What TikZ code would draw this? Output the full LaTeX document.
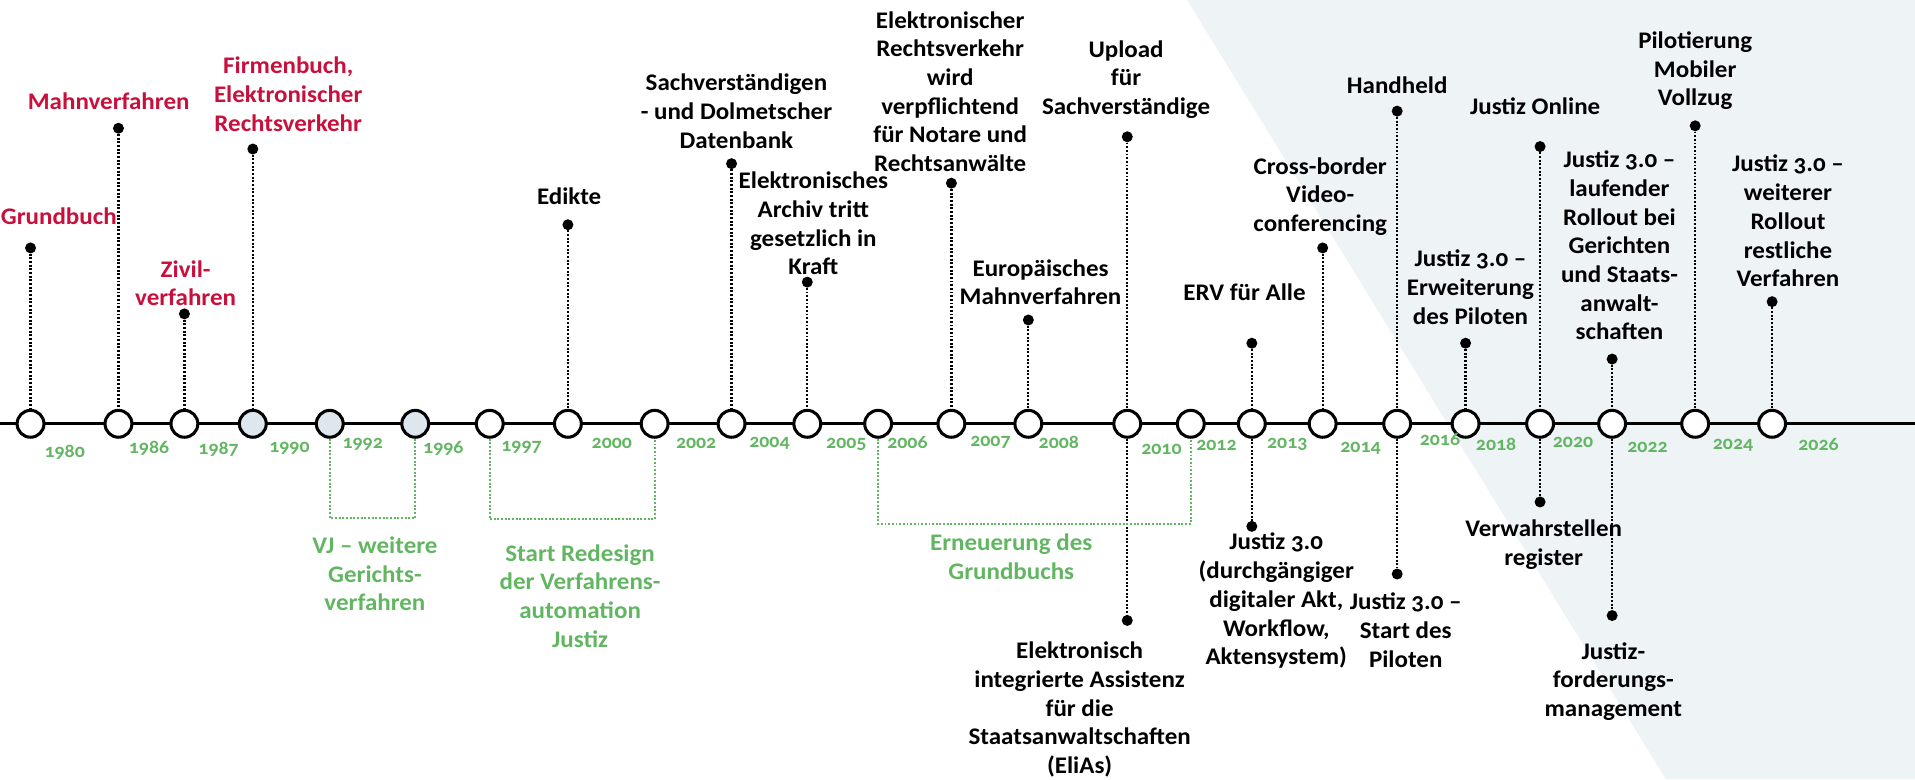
\documentclass[tikz,border=0pt]{standalone}
\usepackage{fontspec}
\setmainfont{Carlito}[Numbers=OldStyle,FakeStretch=1.05]
\definecolor{eventred}{RGB}{200,16,60}
\definecolor{phasegreen}{RGB}{98,182,98}
\definecolor{ringfill}{RGB}{222,231,238}
\definecolor{bggray}{RGB}{238,243,246}
\tikzset{
  ring/.style={circle,draw,line width=2.5pt,minimum size=22pt,inner sep=0pt,fill=white},
  ringold/.style={ring,fill=ringfill},
  dotmark/.style={circle,fill,minimum size=9pt,inner sep=0pt},
  lbl/.style={align=center,inner sep=0pt,font=\bfseries\fontsize{19.5}{23.5}\selectfont},
  lblred/.style={lbl,text=eventred},
  lblgreen/.style={lbl,text=phasegreen},
  yr/.style={inner sep=0pt,text=phasegreen,font=\bfseries\fontsize{15.5}{15.5}\selectfont},
  stemline/.style={line width=1.8pt,dash pattern=on 1.6pt off 1.4pt},
  bracket/.style={stemline,phasegreen}
}
\begin{document}
\begin{tikzpicture}[x=1pt,y=-1pt]
        \useasboundingbox (0,0) rectangle (1568,638);
        \fill[bggray] (972,0) -- (1568,0) -- (1568,638) -- (1364,638) -- cycle;
        \coordinate (lstart) at (0,347);
        \coordinate (lend) at (1568,347);
        \draw[line width=2.5pt] (lstart) -- (lend);
        % timeline rings
        \node at (25,347) [ring] (0) {};
        \node at (97,347) [ring] (1) {};
        \node at (151,347) [ring] (2) {};
        \node at (207,347) [ringold] (3) {};
        \node at (270,347) [ringold] (4) {};
        \node at (340,347) [ringold] (5) {};
        \node at (401,347) [ring] (6) {};
        \node at (465,347) [ring] (7) {};
        \node at (536,347) [ring] (8) {};
        \node at (599,347) [ring] (9) {};
        \node at (661,347) [ring] (10) {};
        \node at (719,347) [ring] (11) {};
        \node at (779,347) [ring] (12) {};
        \node at (842,347) [ring] (13) {};
        \node at (923,347) [ring] (14) {};
        \node at (975,347) [ring] (15) {};
        \node at (1025,347) [ring] (16) {};
        \node at (1083,347) [ring] (17) {};
        \node at (1144,347) [ring] (18) {};
        \node at (1200,347) [ring] (19) {};
        \node at (1261,347) [ring] (20) {};
        \node at (1320,347) [ring] (21) {};
        \node at (1388,347) [ring] (22) {};
        \node at (1451,347) [ring] (23) {};
        % years
        \foreach \x/\y/\t in {53/370/1980,122/367/1986,179/368/1987,237/367/1990,297/364/1992,
            363/367/1996,427/366/1997,501/363/2000,570/363/2002,630/363/2004,693/364/2005,
            743/362/2006,811/362/2007,867/362/2008,951/368/2010,996/365/2012,1054/364/2013,
            1114/367/2014,1179/360/2016,1225/364/2018,1288/362/2020,1349/366/2022,
            1419/365/2024,1489/364/2026}
          \node[yr] at (\x,\y) (y\t) {\t};
        % end points of the stems
        \node at (25,203) [dotmark] (d0) {};
        \node at (97,105) [dotmark] (d1) {};
        \node at (151,257) [dotmark] (d2) {};
        \node at (207,122) [dotmark] (d3) {};
        \node at (465,184) [dotmark] (d4) {};
        \node at (599,134) [dotmark] (d5) {};
        \node at (661,231) [dotmark] (d6) {};
        \node at (779,150) [dotmark] (d7) {};
        \node at (842,262) [dotmark] (d8) {};
        \node at (923,112) [dotmark] (d9) {};
        \node at (923,508) [dotmark] (d10) {};
        \node at (1025,281) [dotmark] (d11) {};
        \node at (1025,431) [dotmark] (d12) {};
        \node at (1083,203) [dotmark] (d13) {};
        \node at (1144,91) [dotmark] (d14) {};
        \node at (1144,470) [dotmark] (d15) {};
        \node at (1200,281) [dotmark] (d16) {};
        \node at (1261,120) [dotmark] (d17) {};
        \node at (1261,411) [dotmark] (d18) {};
        \node at (1320,294) [dotmark] (d19) {};
        \node at (1320,504) [dotmark] (d20) {};
        \node at (1388,103) [dotmark] (d21) {};
        \node at (1451,247) [dotmark] (d22) {};
        \draw[stemline] (d0) -- (0);
        \draw[stemline] (d1) -- (1);
        \draw[stemline] (d2) -- (2);
        \draw[stemline] (d3) -- (3);
        \draw[stemline] (d4) -- (7);
        \draw[stemline] (d5) -- (9);
        \draw[stemline] (d6) -- (10);
        \draw[stemline] (d7) -- (12);
        \draw[stemline] (d8) -- (13);
        \draw[stemline] (d9) -- (14);
        \draw[stemline] (14) -- (d10);
        \draw[stemline] (d11) -- (16);
        \draw[stemline] (16) -- (d12);
        \draw[stemline] (d13) -- (17);
        \draw[stemline] (d14) -- (18);
        \draw[stemline] (18) -- (d15);
        \draw[stemline] (d16) -- (19);
        \draw[stemline] (d17) -- (20);
        \draw[stemline] (20) -- (d18);
        \draw[stemline] (d19) -- (21);
        \draw[stemline] (21) -- (d20);
        \draw[stemline] (d21) -- (22);
        \draw[stemline] (d22) -- (23);
        % phases
        \coordinate (b0) at (305,424);
        \coordinate (b1) at (470,425);
        \coordinate (b2) at (850,429);
        \draw[bracket] (4) |- (b0) -| (5);
        \draw[bracket] (6) |- (b1) -| (8);
        \draw[bracket] (11) |- (b2) -| (15);
        % labels
        \node at (0.5,177) [lblred,anchor=west] (t0) {Grundbuch};
        \node at (89,83) [lblred] (t1) {Mahnverfahren};
        \node at (152,232) [lblred] (t2) {Zivil-\\verfahren};
        \node at (236,77) [lblred] (t3) {Firmenbuch,\\Elektronischer\\Rechtsverkehr};
        \node at (466,161) [lbl] (t4) {Edikte};
        \node at (603,91) [lbl] (t5) {Sachverständigen\\- und Dolmetscher\\Datenbank};
        \node at (666,183) [lbl] (t6) {Elektronisches\\Archiv tritt\\gesetzlich in\\Kraft};
        \node at (778,75) [lbl] (t7) {Elektronischer\\Rechtsverkehr\\wird\\verpflichtend\\für Notare und\\Rechtsanwälte};
        \node at (852,231) [lbl] (t8) {Europäisches\\Mahnverfahren};
        \node at (922,65) [lbl] (t9) {Upload\\für\\Sachverständige};
        \node at (884,581) [lbl] (t10) {Elektronisch\\integrierte Assistenz\\für die\\Staatsanwaltschaften\\(EliAs)};
        \node at (1019,239) [lbl] (t11) {ERV für Alle};
        \node at (1045,492) [lbl] (t12) {Justiz 3.0\\(durchgängiger\\digitaler Akt,\\Workflow,\\Aktensystem)};
        \node at (1081,161) [lbl] (t13) {Cross-border\\Video-\\conferencing};
        \node at (1144,70) [lbl] (t14) {Handheld};
        \node at (1151,516) [lbl] (t15) {Justiz 3.0 –\\Start des\\Piloten};
        \node at (1204,235) [lbl] (t16) {Justiz 3.0 –\\Erweiterung\\des Piloten};
        \node at (1257,87) [lbl] (t17) {Justiz Online};
        \node at (1264,446) [lbl] (t18) {Verwahrstellen\\register};
        \node at (1326,201) [lbl] (t19) {Justiz 3.0 –\\laufender\\Rollout bei\\Gerichten\\und Staats-\\anwalt-\\schaften};
        \node at (1321,558) [lbl] (t20) {Justiz-\\forderungs-\\management};
        \node at (1388,58) [lbl] (t21) {Pilotierung\\Mobiler\\Vollzug};
        \node at (1464,181) [lbl] (t22) {Justiz 3.0 –\\weiterer\\Rollout\\restliche\\Verfahren};
        \node at (307,470) [lblgreen] (g0) {VJ – weitere\\Gerichts-\\verfahren};
        \node at (475,488) [lblgreen] (g1) {Start Redesign\\der Verfahrens-\\automation\\Justiz};
        \node at (828,456) [lblgreen] (g2) {Erneuerung des\\Grundbuchs};
      \end{tikzpicture}
\end{document}
